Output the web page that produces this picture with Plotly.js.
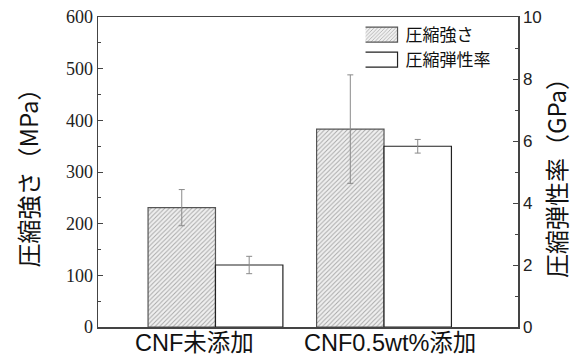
<!DOCTYPE html>
<html>
<head>
<meta charset="utf-8">
<script src="https://cdn.plot.ly/plotly-3.0.1.min.js"></script>
<style>html,body{margin:0;padding:0;background:#fff;}#chart{width:586px;height:358px;}</style>
</head>
<body>
<div id="chart"></div>
<script>
const categories = ["CNF未添加", "CNF0.5wt%添加"];
const strengthMPa = [231, 383];
const strengthErr = [35, 105];
const modulusGPa = [2.0, 5.83];
const modulusErr = [0.28, 0.22];
const seriesNames = ["圧縮強さ", "圧縮弾性率"];
const labelShift = [-21, 6];

const traces = [
  {
    type: "bar", name: seriesNames[0], x: categories, y: strengthMPa,
    width: 0.4, offset: -0.4, yaxis: "y",
    marker: {color: "#f0f0f0", line: {color: "#555", width: 1.2},
      pattern: {shape: "/", fgcolor: "#a8a8a8", bgcolor: "#f0f0f0", size: 3.2, solidity: 0.3}},
    error_y: {type: "data", array: strengthErr, visible: true, color: "#8a8a8a", thickness: 1, width: 3}
  },
  {
    type: "bar", name: seriesNames[1], x: categories, y: modulusGPa,
    width: 0.4, offset: 0, yaxis: "y2",
    marker: {color: "#ffffff", line: {color: "#222", width: 1.2}},
    error_y: {type: "data", array: modulusErr, visible: true, color: "#8a8a8a", thickness: 1, width: 3}
  }
];

const annotations = categories.map(function (c, i) {
  return {
    xref: "x", yref: "paper", x: c, y: 0, yanchor: "top", xanchor: "center",
    xshift: labelShift[i], yshift: -1, showarrow: false, text: c,
    font: {family: "Liberation Sans, Noto Sans CJK JP", size: 23.5, color: "#111"}
  };
});

const layout = {
  width: 586, height: 358,
  margin: {l: 98, r: 68, t: 17, b: 31},
  paper_bgcolor: "#fff", plot_bgcolor: "#fff",
  showlegend: true,
  annotations: annotations,
  legend: {x: 0.637, y: 1.0, xanchor: "left", yanchor: "top", bgcolor: "rgba(0,0,0,0)",
    font: {family: "Noto Sans CJK JP", size: 17, color: "#111"}, traceorder: "normal", tracegroupgap: 0},
  xaxis: {
    type: "category", range: [-0.697, 1.795], showline: true, linecolor: "#444", linewidth: 1.5,
    mirror: true, ticks: "", showgrid: false, zeroline: false, showticklabels: false
  },
  yaxis: {
    range: [0, 600], dtick: 100, showline: true, linecolor: "#444", linewidth: 1.5,
    ticks: "inside", ticklen: 5, tickcolor: "#444", showgrid: false, zeroline: false,
    minor: {dtick: 50, ticks: "inside", ticklen: 3, tickcolor: "#444"},
    tickfont: {family: "Liberation Serif", size: 18, color: "#222"},
    title: {text: "圧縮強さ（MPa）", font: {family: "Noto Sans CJK JP", size: 24, color: "#111"}, standoff: 20}
  },
  yaxis2: {
    overlaying: "y", side: "right", range: [0, 10], dtick: 2, showline: true, linecolor: "#444", linewidth: 1.5,
    ticks: "inside", ticklen: 5, tickcolor: "#444", showgrid: false, zeroline: false,
    minor: {dtick: 1, ticks: "inside", ticklen: 3, tickcolor: "#444"},
    tickfont: {family: "Liberation Sans", size: 17, color: "#222"},
    title: {text: "圧縮弾性率（GPa）", font: {family: "Noto Sans CJK JP", size: 24, color: "#111"}, standoff: 8}
  }
};

Plotly.newPlot("chart", traces, layout, {staticPlot: true}).then(function (gd) {
  document.querySelectorAll("#chart .legendpoints path").forEach(function (p) {
    p.setAttribute("d", "M12,7.5H-24V-7.5H12Z");
  });
});
</script>
</body>
</html>
